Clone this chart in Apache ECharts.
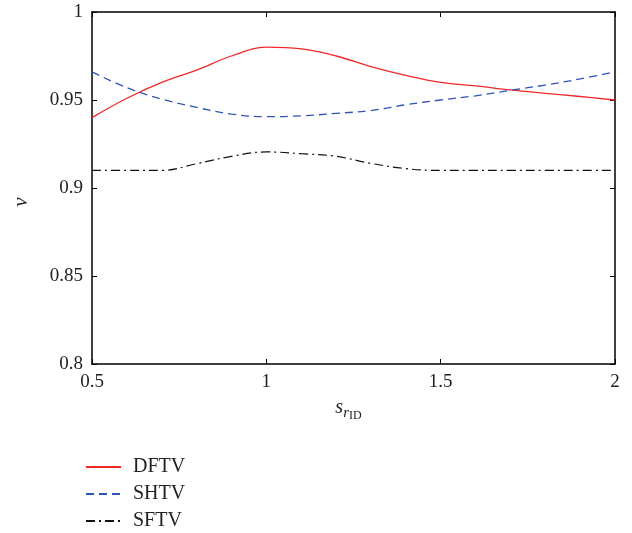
<!DOCTYPE html>
<html>
<head>
<meta charset="utf-8">
<script src="https://cdn.jsdelivr.net/npm/echarts@6/dist/echarts.min.js"></script>
<style>
  html, body { margin: 0; padding: 0; background: #fff; }
  #chart { width: 632px; height: 533px; }
</style>
</head>
<body>
<div id="chart"></div>
<script>
// x positions (s_rID) and curve values
const xs = [0.5, 0.6, 0.7, 0.8, 0.9, 1.0, 1.1, 1.2, 1.3, 1.4, 1.5, 1.6, 1.7, 1.8, 1.9, 2.0]
const dftv = [0.940, 0.951, 0.960, 0.967, 0.975, 0.980, 0.979, 0.975, 0.969, 0.964, 0.960, 0.958, 0.9557, 0.9538, 0.952, 0.950]
const shtv = [0.966, 0.957, 0.9505, 0.9458, 0.942, 0.9405, 0.941, 0.9424, 0.944, 0.9473, 0.950, 0.9524, 0.9555, 0.9585, 0.962, 0.966]
const sftv = [0.910, 0.910, 0.910, 0.9138, 0.918, 0.9205, 0.9195, 0.918, 0.914, 0.911, 0.910, 0.910, 0.910, 0.910, 0.910, 0.910]
const seriesNames = ['DFTV', 'SHTV', 'SFTV']

const pairs = (ys) => xs.map((x, i) => [x, ys[i]])
const font = 'Liberation Serif, DejaVu Serif, serif'

const chart = echarts.init(document.getElementById('chart'))

const frameAxis = (extra) => Object.assign({
  type: 'value',
  axisLine: { show: true, onZero: false, lineStyle: { color: '#000', width: 1.5 } },
  axisTick: { show: true, inside: true, length: 5, lineStyle: { color: '#000', width: 1 } },
  splitLine: { show: false }
}, extra)

chart.setOption({
  animation: false,
  backgroundColor: '#fff',
  textStyle: { fontFamily: font },
  grid: { left: 92, right: 17, top: 12, bottom: 169, containLabel: false },
  legend: {
    orient: 'vertical',
    left: 85,
    top: 456,
    padding: 0,
    itemWidth: 35,
    itemHeight: 12,
    itemGap: 5,
    data: seriesNames,
    itemStyle: { color: 'transparent', borderWidth: 0, opacity: 0 },
    textStyle: { fontFamily: font, fontSize: 20, lineHeight: 22, color: '#222', padding: [0, 0, 0, 7] }
  },
  xAxis: [
    frameAxis({
      min: 0.5, max: 2, interval: 0.5,
      position: 'bottom',
      axisLabel: { color: '#222', fontSize: 19, fontFamily: font, margin: 9 },
      name: '{s|s}{r|r}{id|ID}',
      nameLocation: 'middle',
      nameGap: 30,
      nameTextStyle: {
        padding: [0, 10, 0, 0],
        rich: {
          s: { fontSize: 20, fontStyle: 'italic', fontFamily: font, color: '#222' },
          r: { fontSize: 15, fontStyle: 'italic', fontFamily: font, color: '#222', padding: [10, 0, 0, 0] },
          id: { fontSize: 12, fontFamily: font, color: '#222', padding: [16, 0, 0, 0] }
        }
      }
    }),
    frameAxis({
      min: 0.5, max: 2, interval: 0.5,
      position: 'top',
      axisLabel: { show: false }
    })
  ],
  yAxis: [
    frameAxis({
      min: 0.8, max: 1, interval: 0.05,
      position: 'left',
      axisLabel: { color: '#222', fontSize: 19, fontFamily: font, margin: 9 },
      name: 'ν',
      nameLocation: 'middle',
      nameGap: 60,
      nameTextStyle: { fontSize: 21, fontStyle: 'italic', fontFamily: font, color: '#222', padding: [0, 28, 0, 0] }
    }),
    frameAxis({
      min: 0.8, max: 1, interval: 0.05,
      position: 'right',
      axisLabel: { show: false }
    })
  ],
  series: [
    {
      name: seriesNames[0], type: 'line', smooth: 0.4, symbol: 'none',
      data: pairs(dftv),
      lineStyle: { color: '#f02828', width: 1.3 },
      itemStyle: { color: '#f02828' }
    },
    {
      name: seriesNames[1], type: 'line', smooth: 0.4, symbol: 'none',
      data: pairs(shtv),
      lineStyle: { color: '#2f54b4', width: 1.3, type: [8, 5] },
      itemStyle: { color: '#2f54b4' }
    },
    {
      name: seriesNames[2], type: 'line', smooth: 0.4, symbol: 'none',
      data: pairs(sftv),
      lineStyle: { color: '#111', width: 1.2, type: [9, 4, 2, 4] },
      itemStyle: { color: '#111' }
    }
  ]
})
</script>
</body>
</html>
